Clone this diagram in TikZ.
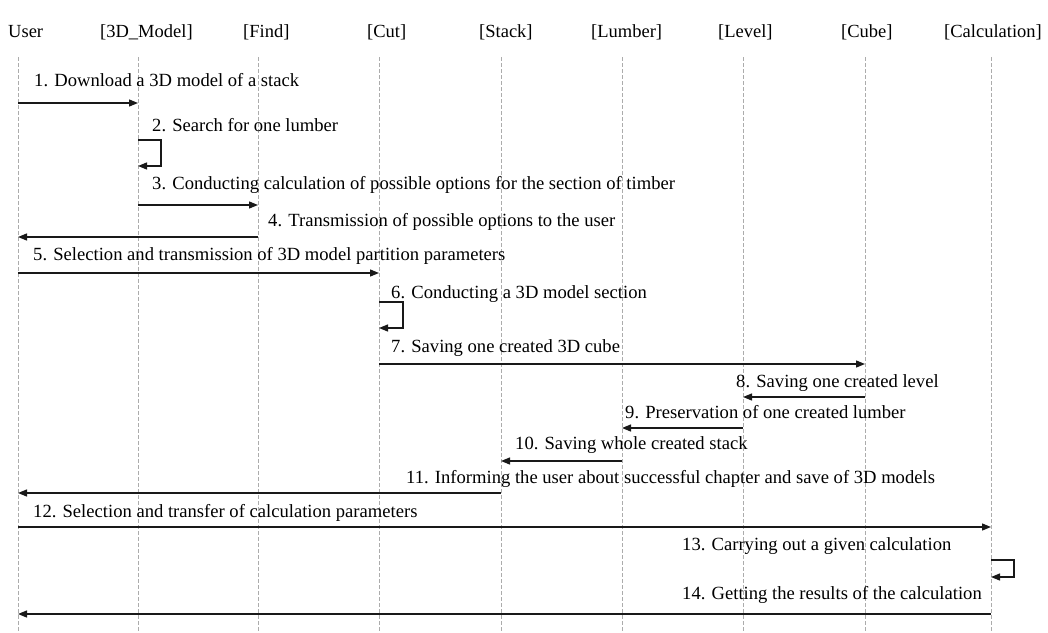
\documentclass[tikz,border=0pt]{standalone}
\usepackage{fontspec}
\setmainfont{Liberation Serif}
\usepackage{tikz}
\usetikzlibrary{arrows.meta, calc}

\begin{document}
\begin{tikzpicture}[
    x=1pt, y=-1pt,
    head/.style={anchor=base west, inner sep=0pt, font=\fontsize{18.5}{20}\selectfont},
    msglabel/.style={anchor=base west, inner sep=0pt, font=\fontsize{18.6}{20}\selectfont},
    lifeline/.style={gray!65, line width=0.7pt, dash pattern=on 4pt off 2pt},
    msg/.style={-{Triangle[length=9pt, width=7pt]}, line width=1.3pt, black!90}
]
\useasboundingbox (0,0) rectangle (1048,632);

% Participants and lifelines
\foreach \name/\x/\lx/\txt in {
    user/18/8/User,
    model/138/100/{[3D\_Model]},
    find/258/243/{[Find]},
    cut/379/367/{[Cut]},
    stack/501/479/{[Stack]},
    lumber/622/591/{[Lumber]},
    level/743/718/{[Level]},
    cube/865/841/{[Cube]},
    calc/991/944/{[Calculation]}} {
    \node[head] (\name) at (\lx,37) {\txt};
    \coordinate (\name-l) at (\x,57);
    \coordinate (\name-b) at (\x,632);
    \draw[lifeline] (\name-l) -- (\name-b);
}

% Messages
\node[msglabel] (t1) at (34,86) {1. Download a 3D model of a stack};
\draw[msg] (user-l |- 0,103) -- (model-l |- 0,103);

\node[msglabel] (t2) at (152,131) {2. Search for one lumber};
\draw[msg] (model-l |- 0,140) -- ++(23,0) |- (model-l |- 0,166);

\node[msglabel] (t3) at (152,189) {3. Conducting calculation of possible options for the section of timber};
\draw[msg] (model-l |- 0,205) -- (find-l |- 0,205);

\node[msglabel] (t4) at (268,226) {4. Transmission of possible options to the user};
\draw[msg] (find-l |- 0,237) -- (user-l |- 0,237);

\node[msglabel] (t5) at (33,260) {5. Selection and transmission of 3D model partition parameters};
\draw[msg] (user-l |- 0,273) -- (cut-l |- 0,273);

\node[msglabel] (t6) at (391,298) {6. Conducting a 3D model section};
\draw[msg] (cut-l |- 0,302) -- ++(24,0) |- (cut-l |- 0,328);

\node[msglabel] (t7) at (391,352) {7. Saving one created 3D cube};
\draw[msg] (cut-l |- 0,364) -- (cube-l |- 0,364);

\node[msglabel] (t8) at (736,387) {8. Saving one created level};
\draw[msg] (cube-l |- 0,397) -- (level-l |- 0,397);

\node[msglabel] (t9) at (625,418) {9. Preservation of one created lumber};
\draw[msg] (level-l |- 0,428) -- (lumber-l |- 0,428);

\node[msglabel] (t10) at (515,449) {10. Saving whole created stack};
\draw[msg] (lumber-l |- 0,461) -- (stack-l |- 0,461);

\node[msglabel] (t11) at (406,483) {11. Informing the user about successful chapter and save of 3D models};
\draw[msg] (stack-l |- 0,493) -- (user-l |- 0,493);

\node[msglabel] (t12) at (33,517) {12. Selection and transfer of calculation parameters};
\draw[msg] (user-l |- 0,527) -- (calc-l |- 0,527);

\node[msglabel] (t13) at (682,550) {13. Carrying out a given calculation};
\draw[msg] (calc-l |- 0,560) -- ++(23,0) |- (calc-l |- 0,577);

\node[msglabel] (t14) at (682,599) {14. Getting the results of the calculation};
\draw[msg] (calc-l |- 0,614) -- (user-l |- 0,614);

\end{tikzpicture}
\end{document}
